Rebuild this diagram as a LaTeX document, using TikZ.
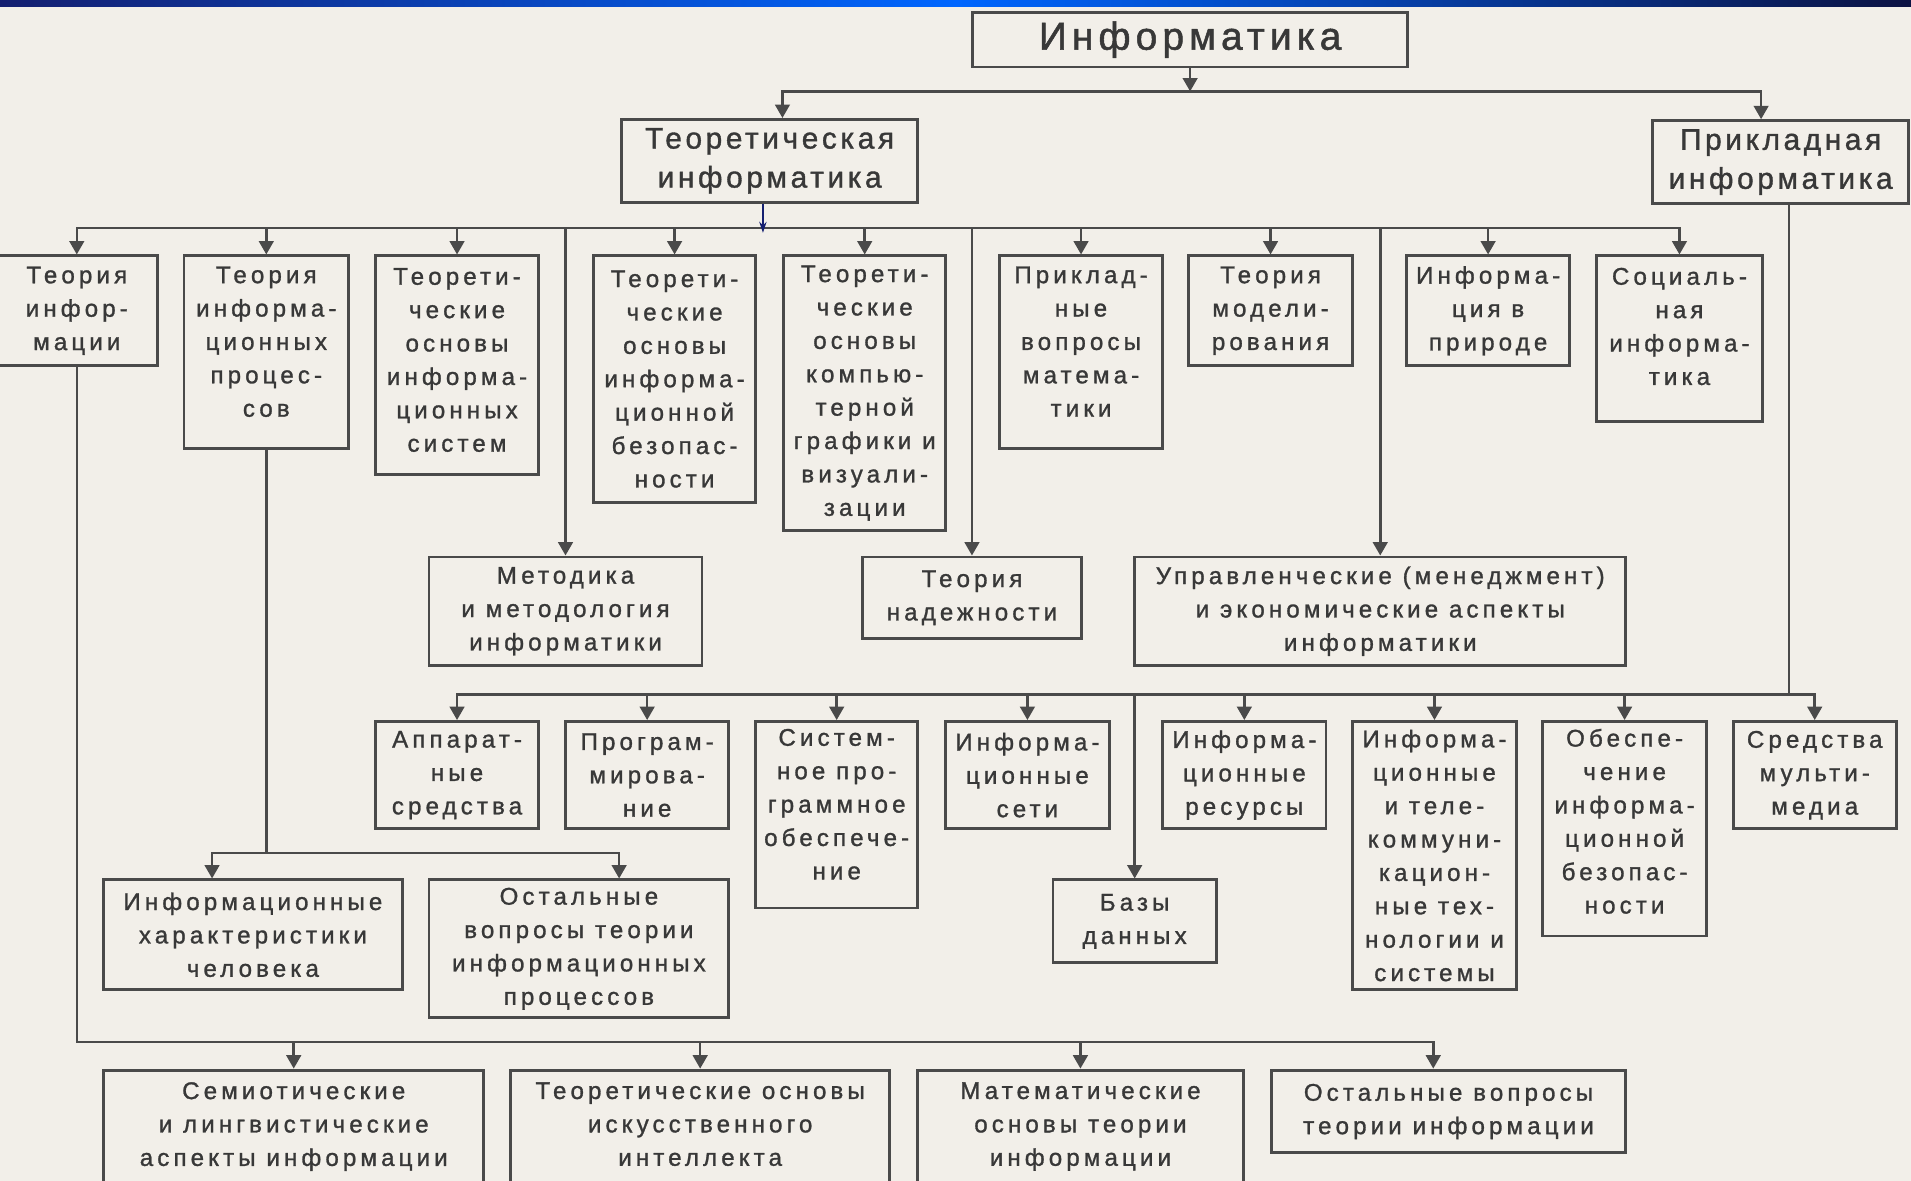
\documentclass[tikz,border=0pt]{standalone}
\usepackage{fontspec}
\setmainfont{Liberation Sans}
\newfontfamily\bfnt{Liberation Sans}[LetterSpace=17,FakeBold=1.2]
\newfontfamily\lfnt{Liberation Sans}[LetterSpace=12,FakeBold=1.2]
\newfontfamily\tfnt{Liberation Sans}[LetterSpace=13,FakeBold=1.3]
\usetikzlibrary{arrows.meta}
\definecolor{bg}{HTML}{F2EFE9}
\definecolor{lnc}{HTML}{4A4A4A}
\definecolor{txc}{HTML}{383838}
\definecolor{nv}{HTML}{141F70}
\newcommand\mybox[7][]{%
  \node[bx,#1,minimum width={(#5-#3)*1pt},minimum height={(#6-#4)*1pt}] (#2) at ({(#3+#5)/2},{(#4+#6)/2}) {#7};}
\begin{document}
\begin{tikzpicture}[x=1pt,y=-1pt,
  bx/.style={draw=lnc, line width=2.4pt, text=txc, align=center, inner sep=0pt,
             font=\bfnt\fontsize{19.8}{27.4}\selectfont},
  lv/.style={font=\lfnt\fontsize{24.5}{32}\selectfont},
  tt/.style={font=\tfnt\fontsize{32}{38}\selectfont},
  wire/.style={draw=lnc, line width=2.1pt, line cap=rect},
  arr/.style={draw=lnc, line width=2.1pt, -{Triangle[width=12pt,length=11pt]}},
  barr/.style={draw=nv, line width=1.3pt, -{Stealth[width=6pt,length=9pt]}}]
\useasboundingbox (0,0) rectangle (1568,969);
\fill[bg] (0,0) rectangle (1568,969);
\shade[left color=nv, right color=nv!60!black, middle color=blue!60!cyan] (0,0) rectangle (1568,5);

% level 0 / 1
\mybox[tt]{inf}{798}{10}{1155}{55}{Информатика}
\mybox[lv]{teor}{510}{98}{753}{166}{Теоретическая\\информатика}
\mybox[lv]{prik}{1356}{99}{1566}{167}{Прикладная\\информатика}

% row 2
\mybox{ti}{-3}{210}{129}{300}{Теория\\инфор-\\мации}
\mybox{tip}{151}{210}{286}{368}{Теория\\информа-\\ционных\\процес-\\сов\\[-10pt]\mbox{}}
\mybox{tois}{308}{210}{442}{389}{Теорети-\\ческие\\основы\\информа-\\ционных\\систем\\[-19pt]\mbox{}}
\mybox{toib}{487}{210}{620}{412}{Теорети-\\ческие\\основы\\информа-\\ционной\\безопас-\\ности}
\mybox{tokg}{643}{210}{776}{435}{Теорети-\\ческие\\основы\\компью-\\терной\\графики и\\визуали-\\зации}
\mybox{pvm}{820}{210}{954}{368}{Приклад-\\ные\\вопросы\\матема-\\тики\\[-10pt]\mbox{}}
\mybox{tm}{975}{210}{1110}{300}{Теория\\модели-\\рования}
\mybox{ip}{1154}{210}{1288}{300}{Информа-\\ция в\\природе}
\mybox{si}{1310}{210}{1446}{346}{Социаль-\\ная\\информа-\\тика\\[-7pt]\mbox{}}

% row 3
\mybox{met}{352}{457}{576}{546}{Методика\\и методология\\информатики}
\mybox{tn}{708}{457}{887}{524}{Теория\\надежности}
\mybox{upr}{931}{457}{1334}{546}{Управленческие (менеджмент)\\и экономические аспекты\\информатики}

% row 4
\mybox{ap}{308}{592}{442}{680}{Аппарат-\\ные\\средства}
\mybox{pr}{464}{592}{598}{680}{Програм-\\мирова-\\ние}
\mybox{sp}{620}{592}{753}{745}{Систем-\\ное про-\\граммное\\обеспече-\\ние\\[-10pt]\mbox{}}
\mybox{is}{776}{592}{910}{680}{Информа-\\ционные\\сети}
\mybox{ir}{954}{592}{1088}{680}{Информа-\\ционные\\ресурсы}
\mybox{ikt}{1110}{592}{1244}{812}{Информа-\\ционные\\и теле-\\коммуни-\\кацион-\\ные тех-\\нологии и\\системы}
\mybox{oib}{1266}{592}{1400}{768}{Обеспе-\\чение\\информа-\\ционной\\безопас-\\ности\\[-15pt]\mbox{}}
\mybox{mm}{1422}{592}{1556}{680}{Средства\\мульти-\\медиа}
\mybox{bd}{864}{722}{998}{790}{Базы\\данных}

% row 5
\mybox{ihc}{85}{722}{330}{812}{Информационные\\характеристики\\человека}
\mybox{ovp}{352}{722}{598}{835}{Остальные\\вопросы теории\\информационных\\процессов}

% bottom row
\mybox{sem}{85}{878}{397}{994}{Семиотические\\и лингвистические\\аспекты информации\\\mbox{}}
\mybox{toii}{419}{878}{730}{994}{Теоретические основы\\искусственного\\интеллекта\\\mbox{}}
\mybox{moti}{753}{878}{1020}{994}{Математические\\основы теории\\информации\\\mbox{}}
\mybox{oti}{1043}{878}{1334}{946}{Остальные вопросы\\теории информации}

% connectors level 0
\coordinate (b0) at (0,75);
\coordinate (b0L) at (642,75);
\coordinate (b0R) at (1445,75);
\draw[arr] (inf.south) -- (inf.south |- b0);
\draw[arr] (b0R) -- (b0L) -- (b0L |- teor.north);
\draw[arr] (b0L) -- (b0R) -- (b0R |- prik.north);

% level 2 bus
\coordinate (b2) at (0,187);
\coordinate (bl) at (626,191);
\draw[wire] (ti.north |- b2) -- (si.north |- b2);
\foreach \n in {ti,tip,tois,toib,tokg,pvm,tm,ip,si,met,tn,upr}
  \draw[arr] (\n.north |- b2) -- (\n.north);
\draw[barr] (teor.south -| bl) -- (bl);

% applied bus
\coordinate (b4) at (0,570);
\coordinate (pv) at (1468,0);
\draw[wire] (prik.south -| pv) -- (pv |- b4);
\draw[wire] (ap.north |- b4) -- (mm.north |- b4);
\foreach \n in {ap,pr,sp,is,ir,ikt,oib,mm,bd}
  \draw[arr] (\n.north |- b4) -- (\n.north);

% information processes
\coordinate (b6) at (0,700);
\coordinate (c1) at (174,700);
\coordinate (c2) at (508,700);
\draw[wire] (tip.south) -- (tip.south |- b6);
\draw[arr] (c2) -- (c1) -- (c1 |- ihc.north);
\draw[arr] (c1) -- (c2) -- (c2 |- ovp.north);

% information theory
\coordinate (b5) at (0,855);
\coordinate (a4) at (1176,855);
\draw[wire] (ti.south) -- (ti.south |- b5) -- (a4);
\foreach \n in {sem,toii,moti}
  \draw[arr] (\n.north |- b5) -- (\n.north);
\draw[arr] (a4) -- (a4 |- oti.north);
\end{tikzpicture}
\end{document}
